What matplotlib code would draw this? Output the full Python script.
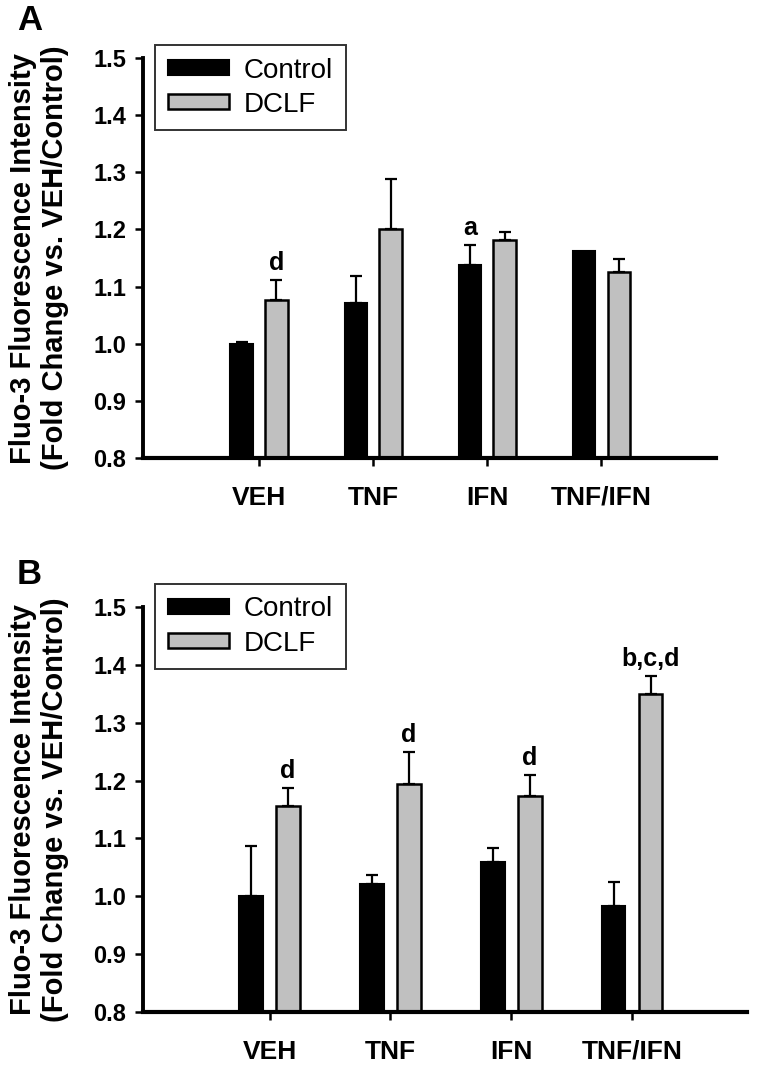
import matplotlib
matplotlib.use('Agg')
import matplotlib.pyplot as plt
import numpy as np

matplotlib.rcParams.update({
    'font.family': ['Liberation Sans', 'DejaVu Sans'],
    'axes.linewidth': 2.8,
})

groups = ['VEH', 'TNF', 'IFN', 'TNF/IFN']
series = ['Control', 'DCLF']

# Panel A
a_control = [1.000, 1.072, 1.138, 1.163]
a_control_err = [0.003, 0.046, 0.035, 0.0]
a_dclf = [1.077, 1.201, 1.182, 1.125]
a_dclf_err = [0.035, 0.088, 0.013, 0.024]
a_control_marks = ['', '', 'a', '']
a_dclf_marks = ['d', '', '', '']

# Panel B
b_control = [1.000, 1.022, 1.059, 0.983]
b_control_err = [0.087, 0.015, 0.024, 0.042]
b_dclf = [1.156, 1.194, 1.173, 1.349]
b_dclf_err = [0.031, 0.055, 0.037, 0.031]
b_control_marks = ['', '', '', '']
b_dclf_marks = ['d', 'd', 'd', 'b,c,d']

yticks = [0.8, 0.9, 1.0, 1.1, 1.2, 1.3, 1.4, 1.5]
ylabel = 'Fluo-3 Fluorescence Intensity\n(Fold Change vs. VEH/Control)'

W, H = 760, 1086
fig = plt.figure(figsize=(W / 100, H / 100), dpi=100)


def px_axes(left, top, right, bottom):
    return fig.add_axes([left / W, 1 - bottom / H, (right - left) / W, (bottom - top) / H])


def draw_panel(ax, ctrl, ctrl_err, dclf, dclf_err, ctrl_marks, dclf_marks,
               xlim, leg_top, label_x):
    x = np.arange(len(groups))
    w = 0.195
    off = 0.153
    ax.bar(x - off, np.array(ctrl) - 0.8, w, bottom=0.8, color='black',
           edgecolor='black', linewidth=1.5, label=series[0], zorder=2)
    ax.bar(x + off, np.array(dclf) - 0.8, w, bottom=0.8, color='#c0c0c0',
           edgecolor='black', linewidth=1.8, label=series[1], zorder=2)
    for xs, vals, errs in [(x - off, ctrl, ctrl_err), (x + off, dclf, dclf_err)]:
        for xi, v, e in zip(xs, vals, errs):
            if e > 0:
                ax.errorbar(xi, v, yerr=[[0], [e]], color='black', capsize=4.5,
                            capthick=1.6, elinewidth=1.6, zorder=3)
    for xs, vals, errs, marks in [(x - off, ctrl, ctrl_err, ctrl_marks),
                                  (x + off, dclf, dclf_err, dclf_marks)]:
        for xi, v, e, m in zip(xs, vals, errs, marks):
            if m:
                ax.text(xi, v + e + 0.009, m, ha='center', va='bottom',
                        fontsize=18, fontweight='bold')
    ax.set_ylim(0.8, 1.5)
    ax.set_xlim(*xlim)
    ax.set_yticks(yticks)
    ax.set_yticklabels([f'{t:.1f}' for t in yticks], fontweight='bold')
    ax.set_xticks(x)
    ax.set_xticklabels(groups, fontweight='bold')
    ax.spines['top'].set_visible(False)
    ax.spines['right'].set_visible(False)
    ax.spines['bottom'].set_linewidth(3.0)
    ax.tick_params(axis='y', direction='out', length=6, width=1.8, pad=6, labelsize=17)
    ax.tick_params(axis='x', direction='out', length=6, width=1.8, pad=14, labelsize=19)
    ax.set_ylabel(ylabel, fontsize=21, fontweight='bold')
    ax.yaxis.set_label_coords(label_x, 0.5)
    leg = ax.legend(loc='upper left', bbox_to_anchor=(155 / W, 1 - leg_top / H),
                    bbox_transform=fig.transFigure, borderaxespad=0, fontsize=20,
                    frameon=True, fancybox=False, edgecolor='black',
                    handlelength=2.2, handleheight=0.45, borderpad=0.45,
                    labelspacing=0.3, handletextpad=0.55)
    leg.get_frame().set_linewidth(1.4)


ax_a = px_axes(143, 58, 716, 458)
draw_panel(ax_a, a_control, a_control_err, a_dclf, a_dclf_err,
           a_control_marks, a_dclf_marks, (-1.017, 4.006), 45, -0.129)
ax_b = px_axes(143, 607, 747, 1012)
draw_panel(ax_b, b_control, b_control_err, b_dclf, b_dclf_err,
           b_control_marks, b_dclf_marks, (-1.048, 3.95), 584, -0.122)

fig.text(17 / W, 1 - 4 / H, 'A', fontsize=25, fontweight='bold', va='top', ha='left')
fig.text(17 / W, 1 - 558 / H, 'B', fontsize=25, fontweight='bold', va='top', ha='left')

fig.savefig('out.png', dpi=100)
